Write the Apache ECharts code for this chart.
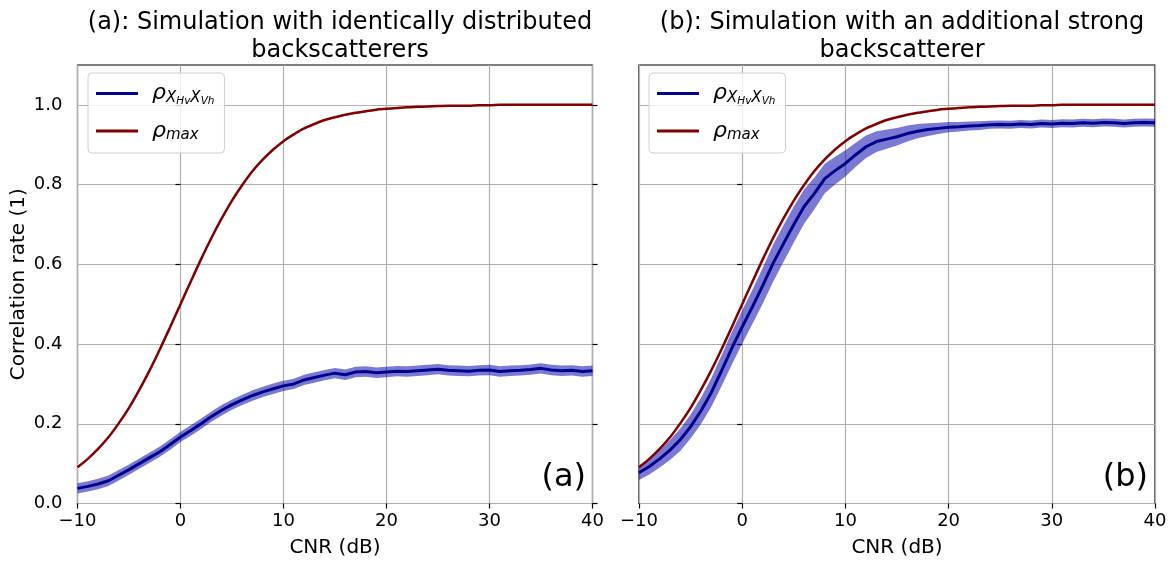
<!DOCTYPE html>
<html>
<head>
<meta charset="utf-8">
<script src="https://cdn.jsdelivr.net/npm/echarts@6/dist/echarts.min.js"></script>
<style>
  html, body { margin: 0; padding: 0; background: #fff; }
  #chart { width: 1173px; height: 563px; }
</style>
</head>
<body>
<div id="chart"></div>
<script>
// CNR grid (dB)
const cnr = [-10, -9, -8, -7, -6, -5, -4, -3, -2, -1, 0, 1, 2, 3, 4, 5, 6, 7, 8, 9,
  10, 11, 12, 13, 14, 15, 16, 17, 18, 19, 20, 21, 22, 23, 24, 25, 26, 27, 28, 29,
  30, 31, 32, 33, 34, 35, 36, 37, 38, 39, 40];

// Theoretical upper bound rho_max
const rhoMax = [0.091, 0.112, 0.137, 0.166, 0.201, 0.240, 0.285, 0.334, 0.387, 0.443,
  0.500, 0.557, 0.613, 0.666, 0.715, 0.760, 0.799, 0.834, 0.863, 0.888,
  0.909, 0.926, 0.941, 0.952, 0.962, 0.969, 0.975, 0.980, 0.984, 0.988,
  0.990, 0.992, 0.994, 0.995, 0.996, 0.997, 0.998, 0.998, 0.998, 0.999,
  0.999, 1.000, 1.000, 1.000, 1.000, 1.000, 1.000, 1.000, 1.000, 1.000, 1.000];

// (a) identically distributed backscatterers: mean and spread
const rhoA = [0.038, 0.043, 0.049, 0.057, 0.071, 0.085, 0.100, 0.115, 0.130, 0.148,
  0.167, 0.183, 0.200, 0.218, 0.234, 0.248, 0.260, 0.271, 0.280, 0.288,
  0.295, 0.300, 0.310, 0.316, 0.322, 0.327, 0.323, 0.330, 0.331, 0.328,
  0.330, 0.332, 0.331, 0.333, 0.335, 0.337, 0.334, 0.333, 0.332, 0.334,
  0.335, 0.331, 0.333, 0.334, 0.336, 0.339, 0.335, 0.333, 0.334, 0.331, 0.333];
const spreadA = [0.013, 0.013, 0.013, 0.013, 0.013, 0.013, 0.013, 0.013, 0.013, 0.013,
  0.013, 0.013, 0.013, 0.013, 0.013, 0.013, 0.013, 0.013, 0.013, 0.013,
  0.013, 0.013, 0.013, 0.013, 0.013, 0.013, 0.013, 0.013, 0.013, 0.013,
  0.013, 0.013, 0.013, 0.013, 0.013, 0.013, 0.013, 0.013, 0.013, 0.013,
  0.013, 0.013, 0.013, 0.013, 0.013, 0.013, 0.013, 0.013, 0.013, 0.013, 0.013];

// (b) with an additional strong backscatterer: mean and spread
const rhoB = [0.077, 0.093, 0.112, 0.134, 0.160, 0.193, 0.232, 0.278, 0.333, 0.390,
  0.443, 0.494, 0.547, 0.603, 0.652, 0.700, 0.745, 0.778, 0.815, 0.835,
  0.853, 0.875, 0.895, 0.908, 0.914, 0.920, 0.928, 0.934, 0.938, 0.941,
  0.944, 0.945, 0.947, 0.948, 0.950, 0.951, 0.950, 0.952, 0.951, 0.953,
  0.952, 0.954, 0.953, 0.955, 0.954, 0.956, 0.955, 0.953, 0.955, 0.956, 0.955];
const spreadB = [0.018, 0.020, 0.022, 0.025, 0.028, 0.030, 0.033, 0.036, 0.039, 0.041,
  0.042, 0.043, 0.045, 0.047, 0.046, 0.045, 0.043, 0.040, 0.037, 0.035,
  0.033, 0.030, 0.028, 0.026, 0.024, 0.022, 0.020, 0.018, 0.016, 0.014,
  0.013, 0.012, 0.011, 0.011, 0.010, 0.010, 0.010, 0.010, 0.010, 0.010,
  0.010, 0.010, 0.010, 0.010, 0.010, 0.010, 0.010, 0.010, 0.010, 0.010, 0.010];

// Tick values
const xTicks = [-10, 0, 10, 20, 30, 40];
const yTicks = [0, 0.2, 0.4, 0.6, 0.8, 1.0];

const titleA = '(a): Simulation with identically distributed\nbackscatterers';
const titleB = '(b): Simulation with an additional strong\nbackscatterer';

const FONT = 'DejaVu Sans';
const BLUE = '#00008b';
const RED = '#800000';
const BAND = 'rgba(0, 0, 175, 0.52)';
const GRIDLINE = '#b0b0b0';
const TICK_FS = 18;
const LABEL_FS = 20;

const chart = echarts.init(document.getElementById('chart'), null, { renderer: 'canvas' });

const gridTop = 65, gridHeight = 438.5;
const grids = [
  { left: 77.5, top: gridTop, width: 515, height: gridHeight },
  { left: 639, top: gridTop, width: 516, height: gridHeight }
];

function xAxisFor(gi) {
  return {
    type: 'value', gridIndex: gi, min: -10, max: 40, interval: 10,
    name: 'CNR (dB)', nameLocation: 'middle', nameGap: 34,
    nameTextStyle: { fontFamily: FONT, fontSize: LABEL_FS, color: '#000' },
    axisLine: { show: false },
    axisLabel: {
      fontFamily: FONT, fontSize: TICK_FS, color: '#000', margin: 9,
      customValues: xTicks,
      formatter: v => String(v).replace('-', '\u2212')
    },
    axisTick: { show: true, length: 5, customValues: xTicks, lineStyle: { color: '#000', width: 1.2 } },
    splitLine: { show: true, lineStyle: { color: GRIDLINE, width: 1.2 } }
  };
}

function yAxisFor(gi, opts) {
  return Object.assign({
    type: 'value', gridIndex: gi, min: 0, max: 1.1, interval: 0.2,
    axisLine: { show: false },
    axisTick: { show: true, length: 5, customValues: yTicks, lineStyle: { color: '#000', width: 1.2 } },
    axisLabel: {
      show: true, fontFamily: FONT, fontSize: TICK_FS, color: '#000', margin: 15,
      customValues: yTicks, formatter: v => v.toFixed(1)
    },
    splitLine: { show: true, lineStyle: { color: GRIDLINE, width: 1.2 } }
  }, opts || {});
}

const yAxes = [
  yAxisFor(0, {
    name: 'Correlation rate (1)', nameLocation: 'middle', nameGap: 49, nameRotate: 90,
    nameTextStyle: { fontFamily: FONT, fontSize: LABEL_FS, color: '#000' }
  }),
  // right-hand ticks of panel (a)
  yAxisFor(0, {
    position: 'right',
    axisLabel: { show: false },
    splitLine: { show: false }
  }),
  yAxisFor(1, {
    axisLabel: { show: false }
  })
];

function bandSeries(xi, yi, mean, spread) {
  return {
    type: 'custom', xAxisIndex: xi, yAxisIndex: yi, silent: true, z: 2,
    data: [[cnr[0], mean[0]]],
    renderItem: function (params, api) {
      const pts = [];
      for (let i = 0; i < cnr.length; i++) pts.push(api.coord([cnr[i], mean[i] + spread[i]]));
      for (let i = cnr.length - 1; i >= 0; i--) pts.push(api.coord([cnr[i], mean[i] - spread[i]]));
      return { type: 'polygon', shape: { points: pts }, style: { fill: BAND } };
    }
  };
}

function meanSeries(xi, yi, mean) {
  return {
    name: 'rhoX', type: 'line', xAxisIndex: xi, yAxisIndex: yi, z: 3,
    data: cnr.map((x, i) => [x, mean[i]]),
    showSymbol: false, symbol: 'none',
    itemStyle: { color: BLUE },
    lineStyle: { color: BLUE, width: 3 }
  };
}

function maxSeries(xi, yi) {
  return {
    name: 'rhoMax', type: 'line', xAxisIndex: xi, yAxisIndex: yi, z: 4,
    data: cnr.map((x, i) => [x, rhoMax[i]]),
    showSymbol: false, symbol: 'none', smooth: 0.3,
    itemStyle: { color: RED },
    lineStyle: { color: RED, width: 2.5 }
  };
}

const legendRich = {
  r: { fontFamily: FONT, fontStyle: 'italic', fontSize: 22, lineHeight: 24, color: '#000', padding: [0, 0, 0, 9] },
  x: { fontFamily: FONT, fontStyle: 'italic', fontSize: 15, lineHeight: 16, color: '#000', padding: [10, 0, 0, 0] },
  s: { fontFamily: FONT, fontStyle: 'italic', fontSize: 10.5, lineHeight: 10, color: '#000', padding: [16, 0, 0, 0] },
  m: { fontFamily: FONT, fontStyle: 'italic', fontSize: 15, lineHeight: 16, color: '#000', padding: [9, 0, 0, 0] }
};

function legendFor(left) {
  return {
    left: left, top: 73, orient: 'vertical',
    data: ['rhoX', 'rhoMax'],
    icon: 'rect', itemWidth: 42, itemHeight: 3, itemGap: 12,
    padding: [7, 10, 10, 8],
    backgroundColor: 'rgba(255,255,255,0.8)',
    borderColor: '#d0d0d0', borderWidth: 1, borderRadius: 4,
    selectedMode: false,
    formatter: name => name === 'rhoX'
      ? '{r|\u03c1}{x|X}{s|Hv}{x|X}{s|Vh}'
      : '{r|\u03c1}{m|max}',
    textStyle: { rich: legendRich }
  };
}

const titleStyle = { fontFamily: FONT, fontSize: 24, fontWeight: 'normal', lineHeight: 28, color: '#000' };
const letterStyle = { fontFamily: FONT, fontSize: 32, fontWeight: 'normal', color: '#000' };

const option = {
  animation: false,
  backgroundColor: '#fff',
  textStyle: { fontFamily: FONT },
  title: [
    { text: titleA, left: 335, top: 4, textAlign: 'center', textStyle: titleStyle },
    { text: titleB, left: 897, top: 4, textAlign: 'center', textStyle: titleStyle },
    { text: '(a)', left: 581, top: 457, textAlign: 'right', textStyle: letterStyle },
    { text: '(b)', left: 1143, top: 457, textAlign: 'right', textStyle: letterStyle }
  ],
  legend: [legendFor(88), legendFor(649)],
  grid: grids.map(g => Object.assign({ show: true, borderColor: '#000', borderWidth: 1.2, backgroundColor: 'transparent' }, g)),
  xAxis: [xAxisFor(0), xAxisFor(1)],
  yAxis: yAxes,
  series: [
    bandSeries(0, 0, rhoA, spreadA),
    meanSeries(0, 0, rhoA),
    maxSeries(0, 0),
    bandSeries(1, 2, rhoB, spreadB),
    meanSeries(1, 2, rhoB),
    maxSeries(1, 2)
  ]
};

chart.setOption(option);
</script>
</body>
</html>
